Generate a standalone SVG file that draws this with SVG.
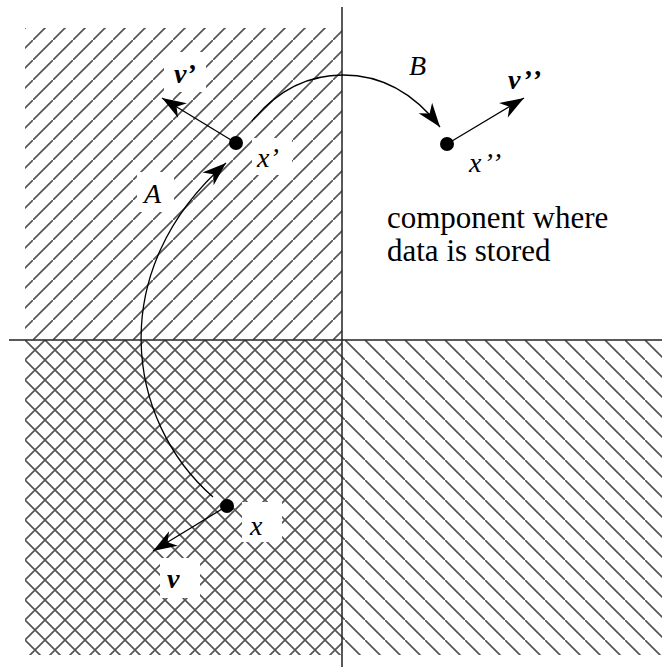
<svg xmlns="http://www.w3.org/2000/svg" width="662" height="667" viewBox="0 0 662 667">
<style>
.ax{stroke:#222;stroke-width:1.5;fill:none}
.arr{stroke:#000;stroke-width:1.3;fill:none;marker-end:url(#ah)}
.dot{fill:#000}
.lbl{font-family:"Liberation Serif","Times New Roman",serif;font-style:italic;font-size:28px;fill:#000}
.vec{font-family:"Liberation Serif","Times New Roman",serif;font-style:italic;font-weight:bold;font-size:28px;fill:#000}
.txt{font-family:"Liberation Serif","Times New Roman",serif;font-size:31px;fill:#000}
.bg{fill:#fff}
.h{stroke:#555;stroke-width:1.7}
.pr{letter-spacing:2px}
</style>
<defs>
<pattern id="fw" patternUnits="userSpaceOnUse" x="13" y="0" width="20" height="20">
<path class="h" d="M-2,22 L22,-2"/>
</pattern>
<pattern id="bw" patternUnits="userSpaceOnUse" x="5" y="0" width="20" height="20">
<path class="h" d="M-2,-2 L22,22"/>
</pattern>
<pattern id="cr" patternUnits="userSpaceOnUse" x="5" y="0" width="20" height="20">
<path class="h" d="M-2,22 L22,-2 M-2,-2 L22,22"/>
</pattern>
<marker id="ah" markerUnits="userSpaceOnUse" viewBox="-25 -10 26 20" refX="0" refY="0" markerWidth="26" markerHeight="20" orient="auto">
<path d="M0,0 L-24,-8.5 L-17,0 L-24,8.5 Z" fill="#000"/>
</marker>
</defs>
<g id="regions">
<rect id="top-left" x="25" y="28" width="317" height="312" fill="url(#fw)"/>
<rect id="bottom-left" x="25" y="340" width="317" height="315" fill="url(#cr)"/>
<rect id="bottom-right" x="342" y="340" width="320" height="315" fill="url(#bw)"/>
</g>
<g id="axes">
<line class="ax" x1="342" y1="7" x2="342" y2="667"/>
<line class="ax" x1="9" y1="340" x2="662" y2="340"/>
</g>
<g id="label-backgrounds">
<rect class="bg" x="164" y="52" width="42" height="40"/>
<rect class="bg" x="137" y="172" width="37" height="40"/>
<rect class="bg" x="252" y="138" width="40" height="37"/>
<rect class="bg" x="242" y="502" width="40" height="40"/>
<rect class="bg" x="160" y="558" width="40" height="40"/>
</g>
<g id="connectors">
<path id="A-path" class="arr" d="M213,497 C125,420 105,270 226,163"/>
<path id="B-path" class="arr" d="M252,121 Q290,75 343,75 Q400,75 440,127"/>
<line id="vec-v1" class="arr" x1="236" y1="143" x2="162" y2="98"/>
<line id="vec-v2" class="arr" x1="447" y1="144" x2="524" y2="98"/>
<line id="vec-v" class="arr" x1="227" y1="506" x2="153" y2="551"/>
</g>
<g id="node-x1">
<circle class="dot" cx="236" cy="143" r="7"/>
<text class="lbl" x="257" y="167">x’</text>
</g>
<g id="node-x2">
<circle class="dot" cx="447" cy="144" r="7"/>
<text class="lbl pr" x="469" y="172">x’’</text>
</g>
<g id="node-x">
<circle class="dot" cx="227" cy="506" r="7"/>
<text class="lbl" x="250" y="535">x</text>
</g>
<g id="labels">
<text class="vec" x="174" y="83">v’</text>
<text class="vec pr" x="508" y="89">v’’</text>
<text class="vec" x="167" y="588">v</text>
<text class="lbl" x="144" y="203">A</text>
<text class="lbl" x="409" y="75">B</text>
<text class="txt" x="387" y="228">component where</text>
<text class="txt" x="387" y="261">data is stored</text>
</g>
</svg>
